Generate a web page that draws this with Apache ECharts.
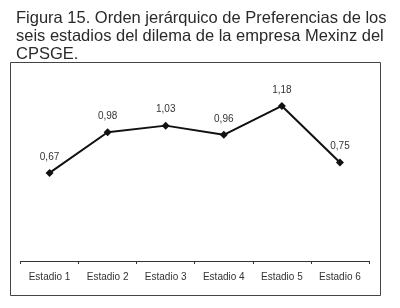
<!DOCTYPE html>
<html>
<head>
<meta charset="utf-8">
<script src="https://cdn.jsdelivr.net/npm/echarts@6/dist/echarts.min.js"></script>
<style>
  html, body { margin: 0; padding: 0; background: #fff; }
  #chart { width: 400px; height: 308px; }
</style>
</head>
<body>
<div id="chart"></div>
<script>
// categorias y valores
var estadios = ['Estadio 1', 'Estadio 2', 'Estadio 3', 'Estadio 4', 'Estadio 5', 'Estadio 6'];
var preferencias = [0.67, 0.98, 1.03, 0.96, 1.18, 0.75];

var titulo = 'Figura 15. Orden jerárquico de Preferencias de los\nseis estadios del dilema de la empresa Mexinz del\nCPSGE.';

var myChart = echarts.init(document.getElementById('chart'));

var option = {
    backgroundColor: '#fff',
    animation: false,
    title: {
        text: titulo,
        left: 11,
        top: 4,
        textStyle: {
            fontFamily: 'Liberation Sans',
            fontSize: 16.5,
            fontWeight: 'normal',
            color: '#2a2a2a',
            lineHeight: 18
        }
    },
    graphic: [{
        type: 'rect',
        shape: { x: 10.5, y: 62.5, width: 370, height: 233 },
        style: { fill: 'none', stroke: '#444', lineWidth: 1 },
        z: -1
    }],
    grid: {
        left: 20.5,
        right: 31,
        top: 77,
        bottom: 47
    },
    xAxis: {
        type: 'category',
        data: estadios,
        boundaryGap: true,
        axisLine: { lineStyle: { color: '#333', width: 1 } },
        axisTick: { show: true, interval: 0, length: 3, lineStyle: { color: '#333' } },
        axisLabel: {
            interval: 0,
            margin: 11,
            fontFamily: 'Liberation Sans',
            fontSize: 10,
            color: '#333'
        }
    },
    yAxis: {
        type: 'value',
        min: 0,
        max: 1.4,
        show: false
    },
    series: [{
        type: 'line',
        data: preferencias,
        symbol: 'diamond',
        symbolSize: 8,
        lineStyle: { color: '#111', width: 2 },
        itemStyle: { color: '#111' },
        label: {
            show: true,
            position: 'top',
            distance: 7,
            fontFamily: 'Liberation Sans',
            fontSize: 10,
            color: '#333',
            formatter: function(p) {
                return p.value.toFixed(2).replace('.', ',');
            }
        }
    }]
};

myChart.setOption(option);
</script>
</body>
</html>
